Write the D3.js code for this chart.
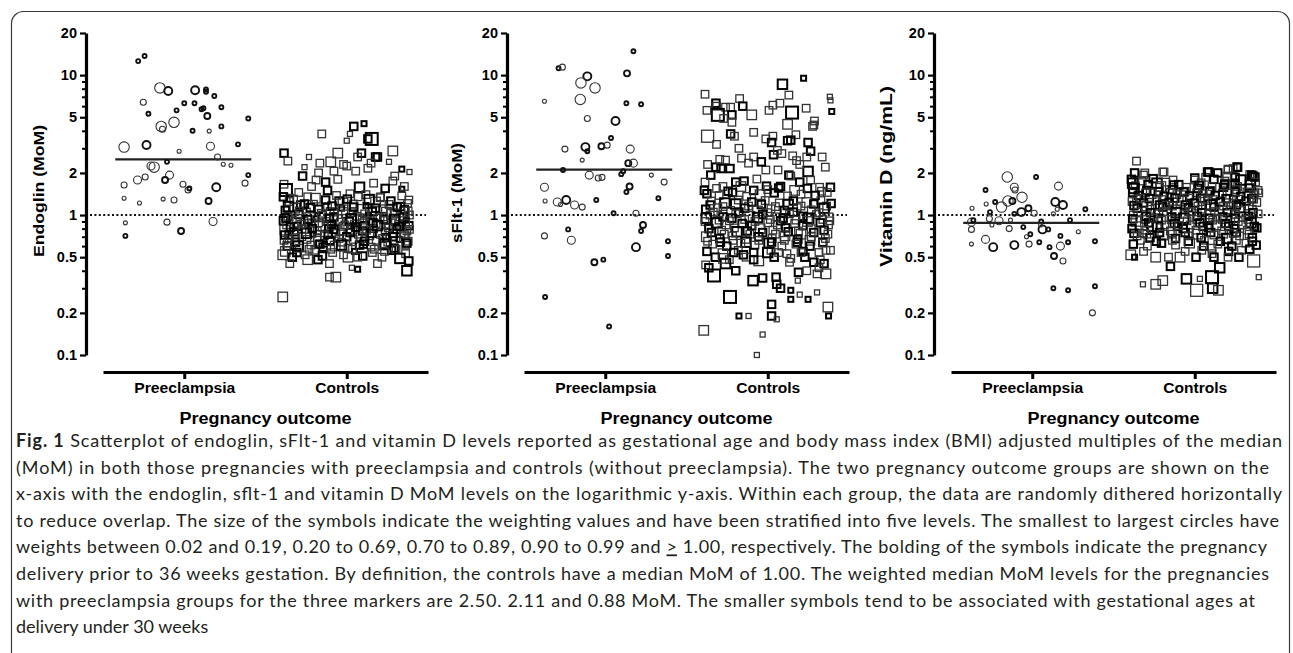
<!DOCTYPE html>
<html>
<head>
<meta charset="utf-8">
<script src="https://cdn.jsdelivr.net/npm/d3@7"></script>
<style>
  body { margin: 0; background: #fff; }
</style>
</head>
<body>
<div id="chart"></div>
<script>
const WIDTH = 1293;
const HEIGHT = 653;

// ---- data ----
// each point: [horizontal dither (-1..1), MoM value, weight level 1..5, bold (delivery < 36 wk)]
const CATEGORIES = ["Preeclampsia", "Controls"];
const Y_TICKS = [0.1, 0.2, 0.5, 1, 2, 5, 10, 20];
const Y_MINOR = [0.3, 0.4, 0.6, 0.7, 0.8, 0.9, 3, 4, 6, 7, 8, 9];
const MARKERS = ["Endoglin (MoM)", "sFlt-1 (MoM)", "Vitamin D (ng/mL)"];
const PRE_MEDIANS = [2.50, 2.11, 0.88];
const CONTROL_MEDIAN = 1.00;

const ENDOGLIN_PRE = [
  [-0.72,12.6,1,1],[-0.62,13.7,1,1],[-0.38,8.1,4,0],[-0.25,7.7,3,1],[0.17,7.8,3,1],[0.34,7.9,1,1],[0.34,7.6,1,1],
  [0.47,7.1,1,1],[-0.64,6.4,2,0],[0.0,6.3,1,1],[0.16,6.3,1,1],[0.27,5.7,1,1],[0.3,5.8,1,1],[0.58,5.9,1,1],
  [-0.12,5.6,1,1],[-0.56,5.3,1,1],[0.36,5.1,2,1],[1.0,4.9,1,1],[-0.16,4.6,4,0],[-0.36,4.3,4,0],[-0.34,4.1,2,0],
  [0.58,4.3,1,1],[0.13,4.0,1,1],[0.39,3.98,1,0],[0.84,3.2,1,1],[-0.94,3.06,4,0],[-0.59,3.17,3,1],[0.41,3.1,3,0],
  [-0.08,2.86,1,0],[0.52,2.6,2,0],[-0.27,2.4,1,1],[0.61,2.31,1,0],[0.73,2.27,1,0],[-0.52,2.24,3,0],[-0.47,2.2,4,0],
  [1.0,1.93,1,1],[-0.61,1.87,2,0],[-0.23,1.93,3,0],[-0.73,1.78,3,0],[-0.3,1.78,2,1],[-0.94,1.64,2,0],[-0.02,1.66,2,0],
  [0.06,1.51,2,0],[0.08,1.55,1,1],[0.5,1.58,3,1],[0.95,1.69,2,0],[-0.94,1.32,1,0],[-0.7,1.22,1,0],[-0.33,1.3,1,0],
  [-0.16,1.28,2,0],[0.38,1.26,2,1],[-0.92,0.88,1,0],[-0.27,0.89,2,0],[0.45,0.9,3,0],[-0.05,0.77,2,1],[-0.92,0.71,1,1]
];

const ENDOGLIN_CTL = [
  [-0.39,3.8,2,0],[0.27,4.5,1,1],[0.11,4.3,2,1],[0.05,3.8,1,0],[0.39,3.5,4,1],[0.33,3.5,2,1],[0.0,3.4,1,0],
  [0.72,2.87,3,0],[-0.14,2.77,3,0],[-0.98,2.77,2,1],[-0.92,2.43,2,0],[-0.59,2.6,1,0],[0.23,2.77,2,1],[0.17,2.6,2,0],
  [0.45,2.6,2,1],[0.48,2.6,2,1],[0.38,2.35,2,0],[0.66,2.4,1,0],[-0.42,2.35,2,0],[-0.25,2.4,3,0],[-0.05,2.3,2,0],
  [0.0,2.24,2,0],[-0.66,2.2,1,0],[0.14,2.06,2,0],[0.33,2.16,2,0],[0.86,2.13,1,1],[0.98,2.03,1,0],[-0.44,2.0,2,0],
  [-0.69,1.9,2,1],[0.75,1.9,2,0],[-0.2,2.06,2,0],[-0.14,1.8,2,0],[-0.48,1.78,2,0],[-0.33,1.72,2,1],[-0.98,1.66,2,0],
  [-0.95,1.51,4,1],[0.42,1.69,2,0],[0.2,1.58,3,1],[0.72,1.75,2,0],[0.86,1.53,1,1],[-0.89,1.32,2,0],[-0.61,1.35,2,0],
  [-0.06,1.22,3,0],[0.53,1.35,2,0],[0.97,1.28,2,0],[-0.75,1.45,2,0],[-0.3,1.5,2,1],[0.05,1.42,2,0],[0.6,1.55,2,1],
  [0.3,1.4,2,0],[-0.55,1.6,2,0],[0.9,1.6,2,0],
  [-0.9,1.25,2,0],[-0.72,1.18,2,1],[-0.5,1.22,1,0],[-0.3,1.15,2,0],[-0.12,1.26,2,1],[0.1,1.2,2,0],[0.3,1.17,1,1],
  [0.45,1.24,3,0],[0.66,1.19,2,0],[0.84,1.15,2,1],[0.95,1.21,2,0],
  [-0.96,1.08,2,1],[-0.81,1.12,3,0],[-0.63,1.05,2,0],[-0.44,1.1,2,1],[-0.26,1.06,2,0],[-0.08,1.12,1,1],[0.07,1.04,2,0],
  [0.22,1.1,3,0],[0.4,1.06,2,1],[0.57,1.11,2,0],[0.74,1.04,2,0],[0.9,1.09,2,1],
  [-0.92,0.98,2,0],[-0.75,1.01,2,1],[-0.58,0.96,3,0],[-0.38,1.0,2,0],[-0.2,0.97,2,1],[-0.02,1.02,2,0],[0.16,0.98,2,0],
  [0.34,1.0,1,1],[0.52,0.96,2,0],[0.7,1.01,3,0],[0.88,0.97,2,1],[0.98,1.0,2,0],
  [-0.99,0.91,2,1],[-0.85,0.93,2,0],[-0.67,0.9,2,0],[-0.48,0.94,1,1],[-0.31,0.9,2,0],[-0.14,0.93,3,0],[0.04,0.9,2,1],
  [0.2,0.94,2,0],[0.38,0.91,2,0],[0.58,0.93,2,1],[0.76,0.9,2,0],[0.93,0.92,1,1],
  [-0.94,0.85,2,0],[-0.78,0.83,2,1],[-0.6,0.87,2,0],[-0.42,0.84,3,0],[-0.24,0.86,2,1],[-0.06,0.83,2,0],[0.12,0.86,2,0],
  [0.28,0.84,2,1],[0.46,0.87,2,0],[0.63,0.83,1,1],[0.81,0.86,2,0],[0.97,0.84,2,1],
  [-0.97,0.78,3,0],[-0.82,0.76,2,1],[-0.64,0.79,2,0],[-0.46,0.77,2,0],[-0.28,0.8,2,1],[-0.1,0.76,2,0],[0.08,0.79,3,0],
  [0.25,0.77,2,1],[0.42,0.8,2,0],[0.6,0.76,2,0],[0.78,0.79,2,1],[0.94,0.77,2,0],
  [-0.9,0.72,2,1],[-0.7,0.7,2,0],[-0.53,0.73,1,1],[-0.35,0.71,2,0],[-0.17,0.74,2,0],[0.0,0.7,2,1],[0.18,0.73,2,0],
  [0.36,0.71,2,0],[0.54,0.74,3,0],[0.72,0.7,2,1],[0.9,0.73,2,0],
  [-0.98,0.66,2,0],[-0.8,0.64,2,1],[-0.62,0.67,2,0],[-0.44,0.65,3,0],[-0.26,0.66,2,1],[-0.08,0.64,2,0],[0.1,0.67,2,0],
  [0.28,0.65,2,1],[0.46,0.66,2,0],[0.64,0.64,2,0],[0.82,0.67,1,1],[0.96,0.65,2,0],
  [-0.93,0.6,2,1],[-0.74,0.58,2,0],[-0.56,0.61,2,0],[-0.37,0.59,2,1],[-0.18,0.6,3,0],[0.02,0.58,2,0],[0.2,0.61,2,1],
  [0.38,0.59,2,0],[0.56,0.6,2,0],[0.74,0.58,2,1],[0.92,0.61,2,0],
  [-0.96,0.55,3,0],[-0.78,0.54,2,1],[-0.5,0.56,2,0],[-0.22,0.54,2,0],[0.12,0.55,1,1],[0.4,0.54,2,0],[0.7,0.56,2,1],
  [0.92,0.53,2,0],
  [-0.88,0.95,1,0],[-0.55,0.88,2,0],[-0.2,1.05,2,0],[0.15,0.8,1,1],[0.48,0.95,2,0],[0.85,0.74,2,0],[-0.7,0.8,2,0],
  [-0.35,0.62,1,1],[0.25,0.88,2,0],[0.62,0.69,2,1],[-0.9,0.68,2,0],[0.9,1.05,3,0],
  [-0.99,1.35,2,1],[-0.83,1.3,2,0],[-0.66,1.2,2,1],[-0.49,1.32,3,0],[-0.33,1.28,2,1],[-0.16,1.38,2,0],[0.01,1.3,2,1],
  [0.18,1.35,2,0],[0.35,1.29,3,1],[0.52,1.33,2,0],[0.69,1.26,2,1],[0.86,1.37,2,0],
  [-0.91,1.15,3,1],[-0.74,1.07,2,0],[-0.57,1.13,2,1],[-0.4,1.03,2,0],[-0.23,1.16,2,1],[-0.06,1.09,3,0],[0.11,1.14,2,1],
  [0.28,1.02,2,0],[0.45,1.12,2,1],[0.62,1.05,3,0],[0.79,1.14,2,1],[0.96,1.07,2,0],
  [-0.95,0.95,2,1],[-0.78,0.89,3,0],[-0.61,0.93,2,1],[-0.44,0.88,2,0],[-0.27,0.95,2,1],[-0.1,0.89,2,0],[0.07,0.94,3,1],
  [0.24,0.92,2,0],[0.41,0.88,2,1],[0.58,0.97,2,0],[0.75,0.93,3,1],[0.92,0.87,2,0],
  [-0.97,0.72,2,1],[-0.8,0.69,2,0],[-0.63,0.74,3,1],[-0.46,0.69,2,0],[-0.29,0.73,2,1],[-0.12,0.68,2,0],[0.05,0.75,2,1],
  [0.22,0.69,3,0],[0.39,0.74,2,1],[0.56,0.68,2,0],[0.73,0.74,2,1],[0.9,0.7,3,0],
  [-0.93,0.63,2,0],[-0.76,0.6,3,1],[-0.59,0.57,2,0],[-0.42,0.62,2,1],[-0.25,0.57,2,0],[-0.08,0.61,3,1],[0.09,0.57,2,0],
  [0.26,0.62,2,1],[0.43,0.57,2,0],[0.6,0.62,3,1],[0.77,0.57,2,0],[0.94,0.63,2,1],
  [-0.85,0.5,2,1],[-0.65,0.52,2,0],[-0.38,0.51,2,1],[-0.05,0.52,2,0],[0.25,0.51,2,1],[0.55,0.5,2,0],[0.83,0.49,3,1],
  [0.97,0.47,2,1],
  [-0.88,0.82,2,1],[-0.71,0.86,2,0],[-0.54,0.8,2,1],[-0.37,0.83,3,0],[-0.2,0.79,2,1],[-0.03,0.85,2,0],[0.14,0.82,2,1],
  [0.31,0.78,2,0],[0.48,0.84,3,1],[0.65,0.81,2,0],[0.82,0.83,2,1],[0.98,0.79,2,0],
  [-1.0,0.52,3,0],[-0.89,0.45,2,0],[-0.61,0.48,3,0],[-0.45,0.48,2,1],[-0.27,0.45,2,0],[0.02,0.5,3,0],[0.17,0.5,2,0],
  [0.48,0.45,2,0],[0.59,0.55,2,0],[0.94,0.4,3,1],[0.08,0.42,1,0],[0.17,0.41,1,1],[-0.27,0.36,2,0],[-0.17,0.36,3,0],
  [-1.0,0.26,3,0]
];

const SFLT_PRE = [
  [0.44,14.8,1,1],[-0.73,11.2,1,1],[-0.67,11.4,2,0],[-0.28,9.8,3,1],[-0.38,8.8,4,0],[-0.16,8.1,4,0],[0.34,10.3,2,1],
  [-0.95,6.5,1,0],[-0.39,6.7,4,0],[0.33,6.3,1,1],[0.56,6.2,1,1],[-0.28,4.9,2,0],[0.16,4.7,3,1],[0.09,3.55,1,1],
  [-0.63,2.96,2,0],[-0.31,3.06,3,1],[-0.28,2.86,1,1],[-0.06,3.1,2,1],[0.03,3.16,2,0],[0.39,2.96,3,0],[-0.36,2.47,1,0],
  [0.36,2.35,2,1],[0.44,2.35,3,0],[-0.66,2.1,1,1],[-0.25,1.93,3,0],[-0.11,1.84,2,0],[-0.05,1.86,2,0],[0.28,2.06,1,1],
  [0.25,1.96,1,1],[0.72,1.93,1,0],[0.92,1.72,2,0],[-0.95,1.58,3,0],[0.38,1.6,2,1],[0.33,1.46,1,1],[-0.94,1.26,1,0],
  [-0.75,1.24,3,0],[-0.7,1.19,1,0],[-0.61,1.28,3,1],[-0.48,1.18,3,0],[-0.36,1.14,2,0],[-0.14,1.28,1,1],[0.83,1.32,1,1],
  [0.13,1.03,1,1],[0.48,1.03,2,0],[0.59,0.85,2,1],[0.56,0.77,1,1],[-0.58,0.79,1,1],[-0.95,0.71,2,0],[-0.53,0.66,3,0],
  [0.98,0.65,1,1],[0.48,0.59,3,1],[-0.17,0.46,2,1],[-0.03,0.48,1,1],[0.98,0.51,1,1],[-0.94,0.26,1,1],[0.06,0.16,1,1]
];

const SFLT_CTL = [
  [0.56,9.5,1,1],[0.23,8.6,3,1],[-0.98,7.3,2,0],[0.33,7.2,2,0],[-0.44,6.8,2,0],[0.97,7.0,1,0],[0.98,6.6,1,0],
  [-0.81,6.3,2,1],[-0.8,6.0,2,0],[0.19,6.3,2,0],[0.08,6.1,2,0],[1.0,5.5,1,1],[-0.39,6.0,2,1],[-0.66,5.9,2,0],
  [-0.58,5.9,2,0],[0.38,5.4,4,1],[-0.78,5.2,4,1],[-0.25,5.2,3,0],[0.02,5.6,2,0],[-0.56,5.2,2,1],[-0.69,4.9,2,0],
  [-0.56,4.6,2,0],[0.73,4.7,2,0],[0.7,4.3,2,0],[0.31,4.45,3,0],[-0.94,3.66,4,0],[-0.58,3.8,2,1],[-0.52,3.66,2,0],
  [-0.22,3.9,2,0],[-0.03,3.5,2,0],[0.08,3.66,2,0],[0.44,3.75,2,0],[0.31,3.4,2,1],[-0.8,3.2,2,0],[0.06,3.3,2,1],
  [0.63,3.3,2,1],[0.67,2.86,2,1],[0.72,4.4,2,0],[0.36,3.43,2,1],[-0.95,5.6,2,0],[0.6,5.8,2,0],
  [-0.66,2.47,2,0],[-0.41,2.55,2,0],[-0.22,2.6,2,0],[0.09,2.7,2,1],[0.22,2.75,2,0],[0.39,2.65,2,0],[0.61,2.6,2,0],
  [-0.94,2.3,2,0],[-0.81,2.2,2,1],[-0.73,2.15,2,1],[-0.59,2.15,2,1],[-0.03,2.1,2,0],[0.16,2.1,2,0],[0.63,2.05,3,1],
  [0.33,1.93,2,1],[-0.89,1.93,2,1],[-0.5,1.72,2,1],[-0.37,1.75,2,1],[-0.17,1.81,2,0],[-0.02,1.61,2,1],[0.17,1.56,2,1],
  [0.36,1.9,2,0],[0.5,1.72,2,1],[0.67,1.78,2,0],[0.81,1.58,2,0],[0.98,1.58,2,1],[-0.98,1.72,2,0],[-0.7,1.6,2,0],
  [0.9,2.2,2,0],[-0.3,2.35,2,0],[0.5,2.3,2,0],[-0.75,2.5,2,0],[-0.1,2.4,2,1],[0.45,2.45,2,0],[0.85,2.6,2,0],
  [-0.45,3.0,2,0],[0.15,2.9,2,0],
  [-0.99,1.5,2,1],[-0.8,1.55,2,0],[-0.62,1.48,2,1],[-0.42,1.6,3,0],[-0.22,1.5,2,1],[0.0,1.52,2,0],[0.2,1.6,2,1],
  [0.42,1.5,3,0],[0.62,1.55,2,1],[0.84,1.48,2,0],
  [-0.95,1.42,2,1],[-0.76,1.38,2,0],[-0.55,1.45,2,1],[-0.33,1.36,2,0],[-0.12,1.4,3,0],[0.1,1.44,2,1],[0.31,1.37,2,0],
  [0.52,1.41,2,0],[0.74,1.38,2,1],[0.93,1.45,2,0],
  [-0.88,1.26,2,0],[-0.67,1.22,3,1],[-0.46,1.28,2,0],[-0.25,1.24,2,1],[-0.04,1.27,2,0],[0.18,1.22,2,0],[0.4,1.26,2,1],
  [0.61,1.23,3,0],[0.83,1.27,2,0],[0.99,1.21,2,1],
  [-0.9,1.18,2,1],[-0.7,1.15,2,0],[-0.5,1.2,3,1],[-0.3,1.16,2,0],[-0.1,1.19,2,1],[0.12,1.15,2,0],[0.32,1.19,3,1],
  [0.52,1.16,2,0],[0.72,1.2,2,1],[0.92,1.16,2,0],
  [-0.97,1.1,2,1],[-0.78,1.13,2,0],[-0.58,1.08,2,0],[-0.36,1.12,2,1],[-0.16,1.07,3,0],[0.05,1.11,2,0],[0.26,1.08,2,1],
  [0.46,1.13,2,0],[0.68,1.09,2,0],[0.88,1.12,3,1],
  [-0.85,1.05,2,0],[-0.45,1.05,2,1],[0.0,1.04,2,0],[0.4,1.05,2,1],[0.8,1.04,2,0],
  [-0.9,1.0,2,0],[-0.7,0.97,2,1],[-0.5,1.02,2,0],[-0.28,0.98,3,0],[-0.08,1.01,2,1],[0.14,0.97,2,0],[0.34,1.02,2,0],
  [0.55,0.98,2,1],[0.76,1.01,2,0],[0.96,0.97,2,0],
  [-0.96,0.95,3,1],[-0.76,0.92,2,0],[-0.56,0.95,2,1],[-0.36,0.93,2,0],[-0.16,0.96,3,1],[0.04,0.93,2,0],[0.24,0.95,2,1],
  [0.44,0.92,2,0],[0.64,0.95,3,1],[0.86,0.93,2,0],
  [-0.98,0.9,2,0],[-0.8,0.88,3,1],[-0.6,0.91,2,0],[-0.4,0.87,2,1],[-0.2,0.9,2,0],[0.0,0.88,2,0],[0.2,0.91,2,1],
  [0.42,0.87,2,0],[0.62,0.9,3,0],[0.82,0.88,2,1],[0.97,0.91,2,0],
  [-0.65,0.85,2,0],[-0.25,0.84,2,1],[0.15,0.85,2,0],[0.55,0.84,2,1],[0.95,0.85,2,0],
  [-0.92,0.8,2,1],[-0.72,0.78,2,0],[-0.52,0.81,2,0],[-0.32,0.77,2,1],[-0.12,0.8,3,0],[0.08,0.78,2,0],[0.28,0.81,2,1],
  [0.48,0.77,2,0],[0.68,0.8,2,0],[0.88,0.78,2,1],
  [-0.88,0.75,2,1],[-0.68,0.73,2,0],[-0.48,0.76,3,1],[-0.28,0.73,2,0],[-0.08,0.75,2,1],[0.12,0.73,2,0],[0.32,0.76,2,1],
  [0.52,0.73,3,0],[0.72,0.75,2,1],[0.94,0.73,2,0],
  [-0.96,0.7,3,0],[-0.75,0.68,2,1],[-0.55,0.71,2,0],[-0.34,0.67,2,0],[-0.14,0.7,2,1],[0.07,0.68,2,0],[0.27,0.71,3,0],
  [0.47,0.67,2,1],[0.68,0.7,2,0],[0.9,0.68,2,0],
  [-0.94,0.65,2,0],[-0.74,0.64,2,1],[-0.54,0.66,2,0],[-0.34,0.64,3,1],[-0.14,0.66,2,0],[0.06,0.64,2,1],[0.26,0.66,2,0],
  [0.46,0.64,2,1],[0.66,0.66,3,0],[0.86,0.64,2,1],
  [-0.86,0.62,2,0],[-0.64,0.6,2,1],[-0.42,0.63,2,0],[-0.2,0.61,2,0],[0.02,0.63,3,1],[0.22,0.6,2,0],[0.44,0.62,2,0],
  [0.66,0.6,2,1],[0.86,0.63,2,0],
  [-0.95,0.55,2,1],[-0.7,0.53,3,0],[-0.46,0.56,2,0],[-0.22,0.54,2,1],[0.05,0.56,2,0],[0.3,0.53,2,0],[0.55,0.55,2,1],
  [0.8,0.54,2,0],[0.98,0.56,2,0],
  [-0.82,0.5,2,1],[-0.6,0.48,2,0],[-0.38,0.52,2,1],[-0.14,0.47,3,0],[0.1,0.5,2,1],[0.34,0.46,2,0],[0.58,0.5,2,1],
  [0.82,0.48,2,0],
  [-0.97,0.44,2,0],[-0.92,0.42,2,1],[-0.66,0.45,3,1],[-0.69,0.49,3,0],[-0.53,0.54,2,1],[-0.34,0.5,2,0],[-0.22,0.48,2,1],
  [0.0,0.54,3,1],[0.17,0.54,2,0],[0.36,0.49,2,0],[0.52,0.54,2,0],[0.72,0.46,2,1],[0.88,0.45,2,1],[0.8,0.42,2,0],
  [0.91,0.56,2,0],
  [-0.84,0.37,4,1],[-0.5,0.4,2,1],[-0.23,0.34,3,1],[-0.08,0.355,2,1],[0.13,0.36,2,1],[0.14,0.32,2,1],[0.2,0.3,2,1],
  [0.47,0.34,1,0],[0.48,0.39,2,1],[0.61,0.4,2,0],[0.91,0.38,3,0],[0.77,0.38,2,0],
  [-0.59,0.26,4,1],[-1.0,0.15,3,0],[-0.45,0.19,1,1],[-0.3,0.19,1,0],[0.06,0.23,2,1],[0.06,0.19,2,1],[0.14,0.18,1,0],
  [-0.08,0.14,1,0],[-0.17,0.1,1,0],[0.36,0.25,1,1],[0.5,0.27,1,0],[0.63,0.25,1,1],[0.77,0.28,1,0],[0.94,0.22,3,0],
  [0.95,0.19,1,1],[0.36,0.29,1,1]
];

const VITD_PRE = [
  [-0.39,1.87,4,0],[0.06,1.87,1,1],[0.41,1.61,3,0],[-0.28,1.58,3,0],[-0.27,1.51,2,0],[-0.73,1.51,1,1],[-0.16,1.34,4,0],
  [-0.38,1.26,4,0],[-0.31,1.26,2,1],[-0.72,1.2,1,0],[-0.58,1.24,1,1],[-0.48,1.14,4,0],[0.36,1.24,3,1],[0.48,1.18,3,1],
  [-0.17,1.05,3,1],[-0.06,1.12,2,1],[0.83,1.1,1,1],[-0.94,1.12,1,0],[-0.66,1.05,1,1],[0.03,1.03,2,0],[-0.28,1.02,1,1],
  [0.39,1.1,1,0],[0.33,1.02,1,0],[-0.95,0.89,3,0],[-0.95,0.79,2,0],[-0.92,0.92,1,1],[-0.67,0.94,2,0],[-0.52,0.91,3,0],
  [-0.63,0.85,1,0],[-0.34,0.92,1,0],[-0.14,0.82,1,1],[-0.36,0.8,2,0],[0.14,0.9,1,1],[0.16,0.79,3,1],[0.25,0.79,1,1],
  [0.13,0.85,1,0],[0.59,0.92,1,1],[0.72,0.76,1,0],[-0.03,0.73,1,1],[-0.09,0.7,1,0],[-0.73,0.67,3,0],[-0.95,0.62,1,0],
  [-0.61,0.59,3,1],[-0.28,0.61,3,1],[-0.05,0.62,2,0],[0.11,0.64,1,1],[0.27,0.59,1,1],[0.44,0.6,3,0],[0.44,0.71,1,1],
  [0.56,0.64,1,1],[0.98,0.65,1,1],[0.34,0.51,2,1],[0.48,0.47,2,0],[0.33,0.3,1,1],[0.56,0.29,1,1],[0.98,0.31,1,1],
  [0.94,0.2,2,0]
];

const VITD_CTL = [
  [-0.91,2.43,2,0],[-0.5,2.03,2,0],[-0.94,2.0,2,1],[-0.78,2.0,2,0],[0.2,2.03,2,1],[0.36,2.0,2,1],[0.66,2.2,2,1],
  [0.6,2.15,2,0],[0.91,1.9,2,1],[0.86,1.95,2,0],[0.52,2.1,2,0],[0.0,1.84,2,1],[0.17,1.86,2,0],[0.63,1.86,2,1],
  [0.47,1.75,2,0],[-0.8,1.93,2,0],[-0.48,2.03,2,0],[-0.59,1.69,3,1],[-0.34,1.78,2,0],[0.0,1.78,2,0],[0.22,2.03,2,1],
  [0.52,2.13,2,0],[0.67,2.2,2,1],[0.89,1.93,2,1],[0.94,1.87,2,1],[0.47,1.69,2,0],[0.63,1.69,2,1],[-0.97,1.69,3,1],
  [0.94,1.44,2,0],[1.0,1.44,2,0],
  [-0.99,1.8,2,1],[-0.82,1.75,2,0],[-0.65,1.82,2,1],[-0.45,1.72,2,0],[-0.25,1.65,2,1],[0.1,1.7,2,0],[0.3,1.8,2,1],
  [0.5,1.9,2,0],[0.72,1.78,3,1],[0.95,1.72,2,0],
  [-0.93,1.62,2,0],[-0.73,1.65,2,1],[-0.53,1.6,3,0],[-0.33,1.64,2,1],[-0.13,1.58,2,0],[0.07,1.63,2,1],[0.27,1.6,2,0],
  [0.47,1.65,2,1],[0.67,1.6,2,0],[0.87,1.64,3,1],
  [-0.95,1.55,3,1],[-0.75,1.5,2,1],[-0.55,1.58,2,0],[-0.35,1.52,2,1],[-0.15,1.48,2,0],[0.05,1.55,2,1],[0.25,1.5,2,0],
  [0.45,1.58,2,1],[0.65,1.52,2,0],[0.85,1.56,2,1],[0.99,1.5,2,0],
  [-0.97,1.45,2,1],[-0.77,1.44,2,0],[-0.57,1.47,2,1],[-0.37,1.43,3,0],[-0.17,1.46,2,1],[0.03,1.44,2,0],[0.23,1.47,2,1],
  [0.43,1.43,2,0],[0.63,1.46,2,1],[0.83,1.44,3,0],
  [-0.88,1.38,2,1],[-0.68,1.42,3,0],[-0.48,1.36,2,1],[-0.28,1.4,2,0],[-0.08,1.37,2,1],[0.12,1.42,2,0],[0.32,1.38,2,1],
  [0.52,1.41,3,0],[0.72,1.36,2,1],[0.92,1.4,2,0],
  [-0.91,1.3,2,0],[-0.71,1.31,2,1],[-0.51,1.29,2,0],[-0.31,1.32,2,1],[-0.11,1.3,3,0],[0.09,1.32,2,1],[0.29,1.29,2,0],
  [0.49,1.31,2,1],[0.69,1.3,2,0],[0.89,1.31,2,1],
  [-0.98,1.25,2,0],[-0.8,1.22,2,1],[-0.6,1.27,2,0],[-0.4,1.23,2,1],[-0.2,1.26,3,0],[0.0,1.22,2,1],[0.2,1.27,2,0],
  [0.4,1.24,2,1],[0.6,1.21,2,0],[0.8,1.26,2,1],[0.97,1.23,2,0],
  [-0.95,1.17,2,1],[-0.75,1.16,3,0],[-0.55,1.18,2,1],[-0.35,1.16,2,0],[-0.15,1.18,2,1],[0.05,1.16,2,0],[0.25,1.18,3,1],
  [0.45,1.16,2,0],[0.65,1.18,2,1],[0.85,1.16,2,0],
  [-0.9,1.12,2,1],[-0.7,1.1,2,0],[-0.5,1.14,2,1],[-0.3,1.09,3,0],[-0.1,1.13,2,1],[0.1,1.1,2,0],[0.3,1.14,2,1],
  [0.5,1.09,2,0],[0.7,1.13,3,1],[0.9,1.1,2,0],
  [-0.89,1.05,2,0],[-0.69,1.04,2,1],[-0.49,1.06,2,0],[-0.29,1.04,3,1],[-0.09,1.06,2,0],[0.11,1.04,2,1],[0.31,1.06,2,0],
  [0.51,1.04,2,1],[0.71,1.06,3,0],[0.91,1.04,2,1],
  [-0.96,1.0,2,0],[-0.76,0.98,2,1],[-0.56,1.02,2,0],[-0.36,0.97,2,1],[-0.16,1.01,2,0],[0.04,0.98,2,1],[0.24,1.02,3,0],
  [0.44,0.97,2,1],[0.64,1.01,2,0],[0.84,0.98,2,1],[0.99,1.02,2,0],
  [-0.97,0.94,2,1],[-0.77,0.93,2,0],[-0.57,0.95,2,1],[-0.37,0.93,2,0],[-0.17,0.95,3,1],[0.03,0.93,2,0],[0.23,0.95,2,1],
  [0.43,0.93,2,0],[0.63,0.95,2,1],[0.83,0.93,2,0],
  [-0.92,0.9,3,0],[-0.72,0.88,2,1],[-0.52,0.92,2,0],[-0.32,0.87,2,1],[-0.12,0.91,2,0],[0.08,0.88,2,1],[0.28,0.92,2,0],
  [0.48,0.87,2,1],[0.68,0.9,2,0],[0.88,0.88,3,1],
  [-0.87,0.84,2,0],[-0.67,0.83,3,1],[-0.47,0.85,2,0],[-0.27,0.83,2,1],[-0.07,0.85,2,0],[0.13,0.83,2,1],[0.33,0.85,3,0],
  [0.53,0.83,2,1],[0.73,0.85,2,0],[0.93,0.83,2,1],
  [-0.98,0.8,2,1],[-0.78,0.78,2,0],[-0.58,0.82,3,1],[-0.38,0.77,2,0],[-0.18,0.8,2,1],[0.02,0.78,2,0],[0.22,0.81,2,1],
  [0.42,0.77,2,0],[0.62,0.8,2,1],[0.82,0.78,2,0],[0.97,0.81,2,1],
  [-0.95,0.74,2,1],[-0.75,0.73,2,0],[-0.55,0.75,2,1],[-0.35,0.73,2,0],[-0.15,0.75,2,1],[0.05,0.73,3,0],[0.25,0.75,2,1],
  [0.45,0.73,2,0],[0.65,0.75,2,1],[0.85,0.73,2,0],
  [-0.9,0.71,2,0],[-0.7,0.69,2,1],[-0.5,0.72,3,0],[-0.3,0.68,2,1],[-0.1,0.71,2,0],[0.1,0.69,2,1],[0.3,0.72,2,0],
  [0.5,0.68,3,1],[0.7,0.71,2,0],[0.9,0.69,2,1],
  [-0.85,0.66,2,0],[-0.6,0.65,2,1],[-0.35,0.66,2,0],[-0.1,0.65,2,1],[0.15,0.66,2,0],[0.4,0.65,2,1],[0.65,0.66,2,0],
  [0.9,0.65,2,1],
  [-0.96,0.62,2,1],[-0.74,0.6,2,0],[-0.52,0.63,2,1],[-0.3,0.61,2,0],[-0.08,0.63,3,0],[0.14,0.6,2,1],[0.36,0.62,2,0],
  [0.58,0.6,2,1],[0.8,0.63,2,0],[0.96,0.61,2,1],
  [-0.85,1.32,2,0],[-0.45,1.18,2,0],[-0.05,1.06,2,0],[0.35,0.95,2,0],[0.75,0.85,2,0],[-0.65,0.95,2,0],[-0.25,0.84,2,0],
  [0.15,1.3,2,0],[0.55,1.16,2,0],[0.92,1.3,2,0],[-0.8,0.74,2,0],[0.6,0.74,2,0],
  [-1.0,0.52,3,0],[-0.94,0.5,1,1],[-0.61,0.5,3,0],[-0.41,0.5,2,0],[-0.38,0.43,2,1],[-0.23,0.5,3,0],[-0.13,0.35,3,1],
  [0.03,0.29,4,0],[-0.81,0.32,1,0],[-0.61,0.32,3,0],[-0.5,0.34,3,0],[0.08,0.35,1,0],[0.27,0.36,4,1],[0.28,0.3,3,1],
  [0.37,0.29,3,0],[0.39,0.42,3,1],[0.92,0.47,4,0],[1.0,0.36,1,0],[0.69,0.5,2,1],[0.27,0.53,2,0],[0.53,0.55,2,1],
  [0.11,0.56,2,0],[0.27,0.58,2,0],[0.73,0.56,2,0],[0.86,0.57,2,1],[0.02,0.5,2,1],[0.3,0.5,2,1],[0.52,0.5,2,0],
  [-0.8,0.55,2,0],[-0.15,0.55,2,0]
];

const CAPTION_BOLD = "Fig. 1";
const CAPTION_LINES = [
  "  Scatterplot of endoglin, sFlt-1 and vitamin D levels reported as gestational age and body mass index (BMI) adjusted multiples of the median",
  "(MoM) in both those pregnancies with preeclampsia and controls (without preeclampsia). The two pregnancy outcome groups are shown on the",
  "x-axis with the endoglin, sflt-1 and vitamin D MoM levels on the logarithmic y-axis. Within each group, the data are randomly dithered horizontally",
  "to reduce overlap. The size of the symbols indicate the weighting values and have been stratified into five levels. The smallest to largest circles have",
  "weights between 0.02 and 0.19, 0.20 to 0.69, 0.70 to 0.89, 0.90 to 0.99 and |>| 1.00, respectively. The bolding of the symbols indicate the pregnancy",
  "delivery prior to 36 weeks gestation. By definition, the controls have a median MoM of 1.00. The weighted median MoM levels for the pregnancies",
  "with preeclampsia groups for the three markers are 2.50. 2.11 and 0.88 MoM. The smaller symbols tend to be associated with gestational ages at",
  "delivery under 30 weeks"
];

// ---- layout ----
const panels = [
  { axisX: 86,  title: MARKERS[0], titleX: 38.5, titleY: 191, titleSize: 15, titleLen: 132, pre: ENDOGLIN_PRE, ctl: ENDOGLIN_CTL, median: PRE_MEDIANS[0] },
  { axisX: 507, title: MARKERS[1], titleX: 456.5, titleY: 193, titleSize: 15, titleLen: 100, pre: SFLT_PRE, ctl: SFLT_CTL, median: PRE_MEDIANS[1] },
  { axisX: 934, title: MARKERS[2], titleX: 886, titleY: 176.5, titleSize: 17, titleLen: 181, pre: VITD_PRE, ctl: VITD_CTL, median: PRE_MEDIANS[2] }
];

const TOP = 33, BOTTOM = 355, X_AXIS_Y = 372;
const CIRCLE_R = [2, 3, 4, 5.2, 6.3];
const SQUARE_S = [5, 7.5, 9.5, 12, 14];
const FONT = "'Liberation Sans', Arial, Helvetica, sans-serif";

let svg = d3.select("#chart")
    .append("svg")
    .attr("width", WIDTH)
    .attr("height", HEIGHT)
    .style("display", "block");

// frame round the figure
svg.append("rect")
    .attr("x", 11.5)
    .attr("y", 11.5)
    .attr("width", 1278)
    .attr("height", 720)
    .attr("rx", 12)
    .attr("fill", "none")
    .attr("stroke", "#3a3a3a")
    .attr("stroke-width", 1.2);

let y = d3.scaleLog().domain([0.1, 20]).range([BOTTOM, TOP]);
let jitter = d3.scaleLinear().domain([-1, 1]).range([-64, 64]);

panels.forEach(p => drawPanel(p));

function drawPanel(p) {
    let g = svg.append("g");
    let A = p.axisX;

    let x = d3.scalePoint()
        .domain(CATEGORIES)
        .range([A + 17, A + 342])
        .padding(0.5);

    // dotted line at control median
    g.append("line")
        .attr("x1", A + 4)
        .attr("x2", A + 340)
        .attr("y1", y(CONTROL_MEDIAN))
        .attr("y2", y(CONTROL_MEDIAN))
        .attr("stroke", "#111")
        .attr("stroke-width", 2)
        .attr("stroke-dasharray", "2,2.4");

    // weighted median of the preeclampsia group
    g.append("line")
        .attr("x1", x("Preeclampsia") - 69)
        .attr("x2", x("Preeclampsia") + 67)
        .attr("y1", y(p.median))
        .attr("y2", y(p.median))
        .attr("stroke", "#222")
        .attr("stroke-width", 2.2);

    // controls: open squares
    g.selectAll("rect.ctl")
        .data(p.ctl)
        .enter()
        .append("rect")
        .attr("class", "ctl")
        .attr("x", d => x("Controls") + jitter(d[0]) - SQUARE_S[d[2] - 1] / 2)
        .attr("y", d => y(d[1]) - SQUARE_S[d[2] - 1] / 2)
        .attr("width", d => SQUARE_S[d[2] - 1])
        .attr("height", d => SQUARE_S[d[2] - 1])
        .attr("fill", "none")
        .attr("stroke", d => d[3] ? "#000" : "#333")
        .attr("stroke-width", d => d[3] ? 2 : 1.3);

    // preeclampsia: open circles
    g.selectAll("circle.pre")
        .data(p.pre)
        .enter()
        .append("circle")
        .attr("class", "pre")
        .attr("cx", d => x("Preeclampsia") + jitter(d[0]))
        .attr("cy", d => y(d[1]))
        .attr("r", d => CIRCLE_R[d[2] - 1])
        .attr("fill", "none")
        .attr("stroke", d => d[3] ? "#111" : "#333")
        .attr("stroke-width", d => d[3] ? 1.9 : 1.1);

    // minor ticks
    g.append("g")
        .attr("transform", `translate(${A},0)`)
        .call(d3.axisLeft(y).tickValues(Y_MINOR).tickSize(4).tickFormat(""))
        .call(a => a.select(".domain").remove())
        .call(a => a.selectAll("line").attr("stroke", "#000").attr("stroke-width", 2));

    // major ticks
    let yAxis = g.append("g")
        .attr("transform", `translate(${A},0)`)
        .call(d3.axisLeft(y).tickValues(Y_TICKS).tickSize(6).tickSizeOuter(0).tickPadding(3).tickFormat(d3.format("~g")));
    yAxis.select(".domain").attr("stroke", "#000").attr("stroke-width", 3.2);
    yAxis.selectAll("line").attr("stroke", "#000").attr("stroke-width", 2.2);
    yAxis.selectAll("text")
        .attr("fill", "#000")
        .style("font-family", FONT)
        .style("font-weight", "bold")
        .style("font-size", "14.5px");

    // x axis
    let xAxis = g.append("g")
        .attr("transform", `translate(0,${X_AXIS_Y})`)
        .call(d3.axisBottom(x).tickSize(7).tickSizeOuter(0));
    xAxis.select(".domain").attr("stroke", "#000").attr("stroke-width", 3.2);
    xAxis.selectAll("line").attr("stroke", "#000").attr("stroke-width", 3);
    xAxis.selectAll("text")
        .attr("y", 21)
        .attr("dy", 0)
        .attr("fill", "#000")
        .attr("textLength", d => d === "Preeclampsia" ? 101 : 64)
        .attr("lengthAdjust", "spacingAndGlyphs")
        .style("font-family", FONT)
        .style("font-weight", "bold")
        .style("font-size", "14px");

    g.append("text")
        .attr("x", A + 179.5)
        .attr("y", 424)
        .attr("text-anchor", "middle")
        .attr("textLength", 172)
        .attr("lengthAdjust", "spacingAndGlyphs")
        .style("font-family", FONT)
        .style("font-weight", "bold")
        .style("font-size", "16px")
        .text("Pregnancy outcome");

    g.append("text")
        .attr("transform", `translate(${p.titleX},${p.titleY}) rotate(-90)`)
        .attr("text-anchor", "middle")
        .attr("dy", "0.36em")
        .attr("textLength", p.titleLen)
        .attr("lengthAdjust", "spacingAndGlyphs")
        .style("font-family", FONT)
        .style("font-weight", "bold")
        .style("font-size", p.titleSize + "px")
        .text(p.title);
}

// caption
const CAPTION_ENDS = [1282, 1269, 1282, 1279, 1267, 1269, 1255, 0];
let caption = svg.append("g")
    .style("font-family", "Lato, 'Open Sans', sans-serif")
    .style("font-size", "18px")
    .attr("fill", "#231f20");

CAPTION_LINES.forEach((line, i) => {
    let t = caption.append("text")
        .attr("x", 16)
        .attr("y", 447 + i * 26.6);
    if (CAPTION_ENDS[i] > 0) {
        t.attr("textLength", CAPTION_ENDS[i] - 16).attr("lengthAdjust", "spacing");
    }
    if (i === 0) {
        t.append("tspan").style("font-weight", "bold").text(CAPTION_BOLD);
    }
    line.split("|").forEach((part, k) => {
        let s = t.append("tspan").text(part);
        if (k === 1) s.style("text-decoration", "underline");
    });
});
</script>
</body>
</html>
